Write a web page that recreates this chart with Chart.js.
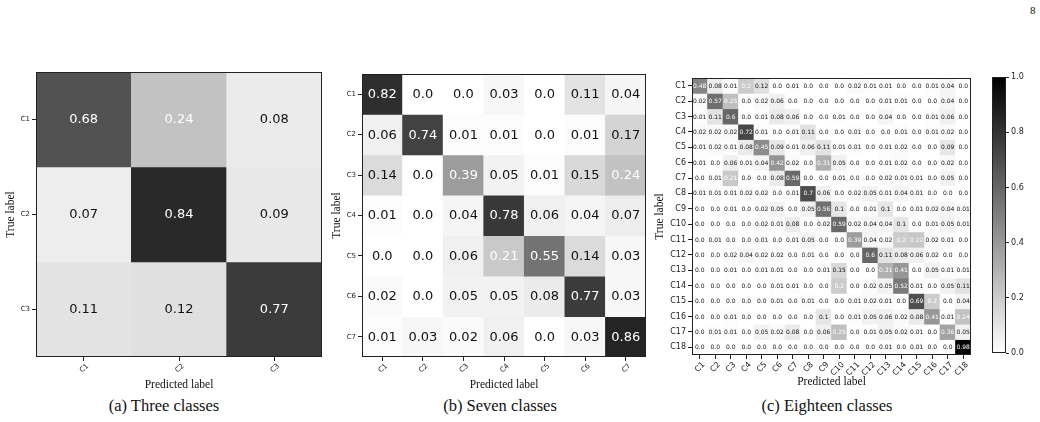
<!DOCTYPE html>
<html>
<head>
<meta charset="utf-8">
<script src="https://cdn.jsdelivr.net/npm/chart.js@4/dist/chart.umd.min.js"></script>
<style>
  body { margin: 0; width: 1040px; height: 422px; background: #fff; position: relative; overflow: hidden; }
  canvas { position: absolute; }
  .cap { position: absolute; font-family: 'Liberation Serif', serif; font-size: 16.5px; color: #111; text-align: center; white-space: nowrap; }
</style>
</head>
<body>
<div class="cap" style="left:1030px;top:4px;font-size:11px;">8</div>
<canvas id="threeChart" width="330" height="334" style="left:0;top:60px"></canvas>
<canvas id="sevenChart" width="326" height="334" style="left:328px;top:60px"></canvas>
<canvas id="eighteenChart" width="323" height="331" style="left:652px;top:60px"></canvas>
<canvas id="colorBar" width="55" height="300" style="left:985px;top:60px"></canvas>
<div class="cap" style="left:64px;top:396px;width:200px;">(a) Three classes</div>
<div class="cap" style="left:400px;top:396px;width:200px;">(b) Seven classes</div>
<div class="cap" style="left:727px;top:396px;width:200px;">(c) Eighteen classes</div>
<script>
// class names
const threeLabels = ['C1', 'C2', 'C3'];
const sevenLabels = ['C1', 'C2', 'C3', 'C4', 'C5', 'C6', 'C7'];
const eighteenLabels = ['C1', 'C2', 'C3', 'C4', 'C5', 'C6', 'C7', 'C8', 'C9',
  'C10', 'C11', 'C12', 'C13', 'C14', 'C15', 'C16', 'C17', 'C18'];

// normalised confusion matrices, rows = true label
const threeValues = [
  [0.68, 0.24, 0.08],
  [0.07, 0.84, 0.09],
  [0.11, 0.12, 0.77]
];

const sevenValues = [
  [0.82, 0.0, 0.0, 0.03, 0.0, 0.11, 0.04],
  [0.06, 0.74, 0.01, 0.01, 0.0, 0.01, 0.17],
  [0.14, 0.0, 0.39, 0.05, 0.01, 0.15, 0.24],
  [0.01, 0.0, 0.04, 0.78, 0.06, 0.04, 0.07],
  [0.0, 0.0, 0.06, 0.21, 0.55, 0.14, 0.03],
  [0.02, 0.0, 0.05, 0.05, 0.08, 0.77, 0.03],
  [0.01, 0.03, 0.02, 0.06, 0.0, 0.03, 0.86]
];

const eighteenValues = [
  [0.48, 0.08, 0.01, 0.2, 0.12, 0.0, 0.01, 0.0, 0.0, 0.0, 0.02, 0.01, 0.01, 0.0, 0.0, 0.01, 0.04, 0.0],
  [0.02, 0.57, 0.25, 0.0, 0.02, 0.06, 0.0, 0.0, 0.0, 0.0, 0.0, 0.0, 0.01, 0.01, 0.0, 0.0, 0.04, 0.0],
  [0.01, 0.11, 0.6, 0.0, 0.01, 0.08, 0.06, 0.0, 0.0, 0.01, 0.0, 0.0, 0.04, 0.0, 0.0, 0.01, 0.06, 0.0],
  [0.02, 0.02, 0.02, 0.72, 0.01, 0.0, 0.01, 0.11, 0.0, 0.0, 0.01, 0.0, 0.0, 0.01, 0.0, 0.01, 0.02, 0.0],
  [0.01, 0.02, 0.01, 0.08, 0.45, 0.09, 0.01, 0.06, 0.11, 0.01, 0.01, 0.0, 0.01, 0.02, 0.0, 0.0, 0.09, 0.0],
  [0.01, 0.0, 0.06, 0.01, 0.04, 0.42, 0.02, 0.0, 0.31, 0.05, 0.0, 0.0, 0.01, 0.02, 0.0, 0.0, 0.02, 0.0],
  [0.0, 0.01, 0.21, 0.0, 0.0, 0.08, 0.59, 0.0, 0.0, 0.01, 0.0, 0.0, 0.02, 0.01, 0.01, 0.0, 0.05, 0.0],
  [0.01, 0.01, 0.01, 0.02, 0.02, 0.0, 0.01, 0.7, 0.06, 0.0, 0.02, 0.05, 0.01, 0.04, 0.01, 0.0, 0.0, 0.0],
  [0.0, 0.0, 0.01, 0.0, 0.02, 0.05, 0.0, 0.05, 0.56, 0.1, 0.0, 0.01, 0.1, 0.0, 0.01, 0.02, 0.04, 0.01],
  [0.0, 0.0, 0.0, 0.0, 0.02, 0.01, 0.08, 0.0, 0.02, 0.59, 0.02, 0.04, 0.04, 0.1, 0.0, 0.01, 0.05, 0.01],
  [0.0, 0.01, 0.0, 0.0, 0.01, 0.0, 0.01, 0.05, 0.0, 0.0, 0.39, 0.04, 0.02, 0.2, 0.22, 0.02, 0.01, 0.0],
  [0.0, 0.0, 0.02, 0.04, 0.02, 0.02, 0.0, 0.01, 0.0, 0.0, 0.0, 0.6, 0.11, 0.08, 0.06, 0.02, 0.0, 0.0],
  [0.0, 0.0, 0.01, 0.0, 0.01, 0.01, 0.0, 0.0, 0.01, 0.15, 0.0, 0.0, 0.31, 0.41, 0.0, 0.05, 0.01, 0.01],
  [0.0, 0.0, 0.0, 0.0, 0.0, 0.01, 0.01, 0.0, 0.0, 0.2, 0.0, 0.02, 0.05, 0.52, 0.01, 0.0, 0.05, 0.11],
  [0.0, 0.0, 0.0, 0.0, 0.0, 0.01, 0.0, 0.01, 0.0, 0.0, 0.01, 0.02, 0.01, 0.0, 0.69, 0.2, 0.0, 0.04],
  [0.0, 0.0, 0.01, 0.0, 0.0, 0.0, 0.0, 0.0, 0.1, 0.0, 0.01, 0.05, 0.06, 0.02, 0.08, 0.41, 0.01, 0.24],
  [0.0, 0.01, 0.01, 0.0, 0.05, 0.02, 0.08, 0.0, 0.06, 0.25, 0.0, 0.01, 0.05, 0.02, 0.01, 0.0, 0.36, 0.05],
  [0.0, 0.0, 0.0, 0.0, 0.0, 0.0, 0.0, 0.0, 0.0, 0.0, 0.0, 0.0, 0.01, 0.0, 0.01, 0.0, 0.0, 0.98]
];

const colorBarTicks = [0.0, 0.2, 0.4, 0.6, 0.8, 1.0];

const sans = 'DejaVu Sans';
const serif = 'Liberation Serif';
const ink = '#222';

const shade = v => {
  const g = Math.round(255 * (1 - v));
  return `rgb(${g},${g},${g})`;
};
const fmt = v => (Number.isInteger(Math.round(v * 100) / 10) ? v.toFixed(1) : String(v));

// numbers in the cells + black frame round the plot area
const cellText = {
  id: 'cellText',
  afterDatasetsDraw(chart, args, opts) {
    const { ctx, chartArea } = chart;
    ctx.save();
    ctx.font = `${opts.size}px "${sans}"`;
    ctx.textAlign = 'center';
    ctx.textBaseline = 'middle';
    chart.data.datasets.forEach((ds, r) => {
      chart.getDatasetMeta(r).data.forEach((bar, c) => {
        const v = ds.values[c];
        ctx.fillStyle = v >= 0.2 ? '#fff' : '#111';
        ctx.fillText(fmt(v), bar.x, (bar.y + bar.base) / 2 + 0.5);
      });
    });
    ctx.strokeStyle = ink;
    ctx.lineWidth = 1;
    ctx.strokeRect(Math.round(chartArea.left) + 0.5, Math.round(chartArea.top) + 0.5,
      Math.round(chartArea.width) - 1, Math.round(chartArea.height) - 1);
    ctx.restore();
  }
};

function drawMatrix(id, labels, values, cfg) {
  const n = labels.length;
  const datasets = values.map((row, r) => ({
    values: row,
    data: row.map(() => [r, r + 1]),
    backgroundColor: row.map(shade),
    borderWidth: 0,
    barPercentage: 1,
    categoryPercentage: 1,
    grouped: false
  }));

  new Chart(document.getElementById(id), {
    type: 'bar',
    data: { labels, datasets },
    options: {
      responsive: false,
      animation: false,
      layout: { padding: cfg.padding },
      plugins: {
        legend: { display: false },
        tooltip: { enabled: false },
        cellText: { size: cfg.valueSize }
      },
      scales: {
        x: {
          grid: { offset: false, drawOnChartArea: false, tickLength: 4, tickColor: ink },
          border: { display: false },
          ticks: { autoSkip: false, minRotation: 45, maxRotation: 45, padding: 1,
            labelOffset: cfg.labelShift,
            font: { family: sans, size: cfg.tickSize }, color: ink },
          title: { display: true, text: 'Predicted label', color: '#111',
            font: { family: serif, size: 11.5 }, padding: { top: 0, bottom: 2 } },
          afterFit: s => { s.height = cfg.xHeight; }
        },
        y: {
          min: 0,
          max: n,
          reverse: true,
          afterBuildTicks: s => { s.ticks = labels.map((_, i) => ({ value: i + 0.5 })); },
          grid: { drawOnChartArea: false, tickLength: 4, tickColor: ink },
          border: { display: false },
          ticks: { autoSkip: false, padding: 2, callback: v => labels[Math.floor(v)],
            font: { family: sans, size: cfg.tickSize }, color: ink },
          title: { display: true, text: 'True label', color: '#111',
            font: { family: serif, size: 11.5 }, padding: { top: cfg.titlePad, bottom: 0 } },
          afterFit: s => { s.width = cfg.yWidth; }
        }
      }
    },
    plugins: [cellText]
  });
}

drawMatrix('threeChart', threeLabels, threeValues,
  { padding: { top: 12, right: 8 }, yWidth: 36, xHeight: 37, titlePad: 4, tickSize: 7, valueSize: 13, labelShift: 4 });
drawMatrix('sevenChart', sevenLabels, sevenValues,
  { padding: { top: 14, right: 8 }, yWidth: 34, xHeight: 37, titlePad: 2.5, tickSize: 7, valueSize: 13, labelShift: 4 });
drawMatrix('eighteenChart', eighteenLabels, eighteenValues,
  { padding: { top: 18, right: 4 }, yWidth: 40, xHeight: 36, titlePad: 1.5, tickSize: 8, valueSize: 6, labelShift: 4 });

// colour bar
new Chart(document.getElementById('colorBar'), {
  type: 'bar',
  data: {
    labels: [''],
    datasets: [{
      data: [[0, 1]],
      barPercentage: 1,
      categoryPercentage: 1,
      borderWidth: 0,
      backgroundColor: c => {
        const { ctx, chartArea } = c.chart;
        if (!chartArea) return '#888';
        const g = ctx.createLinearGradient(0, chartArea.bottom, 0, chartArea.top);
        g.addColorStop(0, '#fff');
        g.addColorStop(1, '#000');
        return g;
      }
    }]
  },
  options: {
    responsive: false,
    animation: false,
    layout: { padding: { left: 7, top: 17, bottom: 4 } },
    plugins: { legend: { display: false }, tooltip: { enabled: false } },
    scales: {
      x: { display: false },
      y: {
        position: 'right',
        min: 0,
        max: 1,
        afterBuildTicks: s => { s.ticks = colorBarTicks.map(value => ({ value })); },
        grid: { drawOnChartArea: false, tickLength: 3, tickColor: ink },
        border: { display: false },
        ticks: { padding: 2, callback: v => v.toFixed(1), font: { family: sans, size: 8 }, color: ink },
        afterFit: s => { s.width = 34; }
      }
    }
  },
  plugins: [{
    id: 'barFrame',
    afterDraw(chart) {
      const { ctx, chartArea } = chart;
      ctx.save();
      ctx.strokeStyle = ink;
      ctx.lineWidth = 1;
      ctx.strokeRect(Math.round(chartArea.left) + 0.5, Math.round(chartArea.top) + 0.5,
        Math.round(chartArea.width) - 1, Math.round(chartArea.height) - 1);
      ctx.restore();
    }
  }]
});
</script>
</body>
</html>
